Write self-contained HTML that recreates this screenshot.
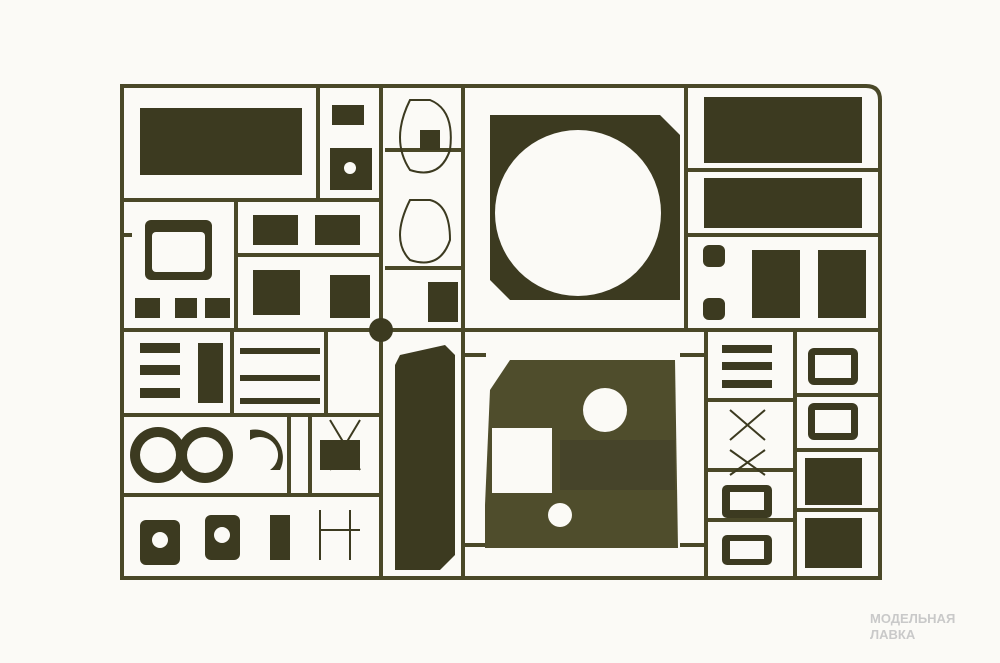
<!DOCTYPE html>
<html><head><style>
html,body{margin:0;padding:0;background:#fbfaf6;}
svg{display:block}
.t{font-family:"Liberation Sans",sans-serif;font-weight:bold;fill:#c9c9c9;font-size:13px}
</style></head><body>
<svg width="1000" height="663" viewBox="0 0 1000 663">
<rect width="1000" height="663" fill="#fbfaf6"/>
<g fill="none" stroke="#4a4828" stroke-width="4">
<path d="M122 86 H866 Q880 86 880 100 V578 H122 Z"/>
<path d="M122 330 H880"/>
<path d="M122 200 H381 M318 86 V200 M381 86 V578 M463 86 V578 M686 86 V330 M706 330 V578 M122 235 H132"/>
<path d="M236 200 V330 M236 255 H381 M385 150 H463 M385 268 H463 M686 235 H880 M686 170 H880"/>
<path d="M122 415 H381 M232 330 V415 M326 330 V415 M122 495 H381 M289 415 V495 M310 415 V495 M795 330 V578 M706 400 H795 M706 470 H795 M706 520 H795 M795 395 H880 M795 450 H880 M795 510 H880"/>
<path d="M463 355 H486 M680 355 H706 M463 545 H486 M680 545 H706"/>
</g>
<g fill="#3c3a20">
<rect x="140" y="108" width="162" height="67"/>
<rect x="332" y="105" width="32" height="20"/>
<rect x="330" y="148" width="42" height="42"/>
<path d="M490 115 H660 L680 135 V300 H510 L490 280 Z"/>
<rect x="704" y="97" width="158" height="66"/>
<rect x="704" y="178" width="158" height="50"/>
<rect x="752" y="250" width="48" height="68"/>
<rect x="818" y="250" width="48" height="68"/>
<rect x="703" y="245" width="22" height="22" rx="6"/>
<rect x="703" y="298" width="22" height="22" rx="6"/>
<rect x="145" y="220" width="67" height="60" rx="6"/>
<rect x="253" y="270" width="47" height="45"/>
<rect x="330" y="275" width="40" height="43"/>
<rect x="253" y="215" width="45" height="30"/>
<rect x="315" y="215" width="45" height="30"/>
<rect x="428" y="282" width="30" height="40"/>
<rect x="420" y="130" width="20" height="20"/>
<rect x="135" y="298" width="25" height="20"/>
<rect x="175" y="298" width="22" height="20"/>
<rect x="205" y="298" width="25" height="20"/>
<path d="M400 355 L445 345 L455 355 V555 L440 570 H395 V365 Z"/>
<path d="M490 390 L510 360 H675 L678 548 H485 V505 Z" fill="#4f4d2c"/>
<rect x="560" y="440" width="115" height="50" fill="#46442a"/>
<rect x="805" y="458" width="57" height="47"/>
<rect x="805" y="518" width="57" height="50"/>
<rect x="808" y="348" width="50" height="37" rx="6"/>
<rect x="808" y="403" width="50" height="37" rx="6"/>
<rect x="722" y="345" width="50" height="8"/>
<rect x="722" y="362" width="50" height="8"/>
<rect x="722" y="380" width="50" height="8"/>
<rect x="722" y="485" width="50" height="33" rx="5"/>
<rect x="722" y="535" width="50" height="30" rx="5"/>
<circle cx="158" cy="455" r="28"/><circle cx="205" cy="455" r="28"/>
<path d="M250 430 A28 28 0 0 1 280 470 L270 470 A18 18 0 0 0 250 440 Z"/>
<rect x="140" y="520" width="40" height="45" rx="6"/>
<rect x="205" y="515" width="35" height="45" rx="6"/>
<rect x="270" y="515" width="20" height="45"/>
<rect x="320" y="440" width="40" height="30"/>
<rect x="140" y="343" width="40" height="10"/>
<rect x="140" y="365" width="40" height="10"/>
<rect x="140" y="388" width="40" height="10"/>
<rect x="198" y="343" width="25" height="60"/>
<rect x="240" y="348" width="80" height="6"/>
<rect x="240" y="375" width="80" height="6"/>
<rect x="240" y="398" width="80" height="6"/>
<circle cx="381" cy="330" r="12"/>
</g>
<g fill="#fbfaf6">
<circle cx="578" cy="213" r="83"/>
<circle cx="605" cy="410" r="22"/>
<rect x="492" y="428" width="60" height="65"/>
<circle cx="560" cy="515" r="12"/>
<circle cx="158" cy="455" r="18"/><circle cx="205" cy="455" r="18"/>
<rect x="152" y="232" width="53" height="40" rx="4"/>
<rect x="815" y="355" width="36" height="23"/>
<rect x="815" y="410" width="36" height="23"/>
<rect x="730" y="492" width="34" height="18"/>
<rect x="730" y="541" width="34" height="18"/>
<circle cx="160" cy="540" r="8"/><circle cx="222" cy="535" r="8"/>
<circle cx="350" cy="168" r="6"/>
</g>
<g fill="none" stroke="#3c3a20" stroke-width="2">
<path d="M410 100 Q390 140 410 170 Q440 180 450 150 Q455 110 430 100 Z"/>
<path d="M410 200 Q390 240 410 260 Q440 270 450 240 Q450 205 430 200 Z"/>
<path d="M730 410 L765 440 M765 410 L730 440 M730 450 L765 475 M765 450 L730 475"/>
<path d="M330 420 L360 470 M360 420 L330 470 M320 510 V560 M350 510 V560 M320 530 H360"/>
</g>
<text class="t" x="870" y="623">МОДЕЛЬНАЯ</text>
<text class="t" x="870" y="639">ЛАВКА</text>
</svg>
</body></html>
